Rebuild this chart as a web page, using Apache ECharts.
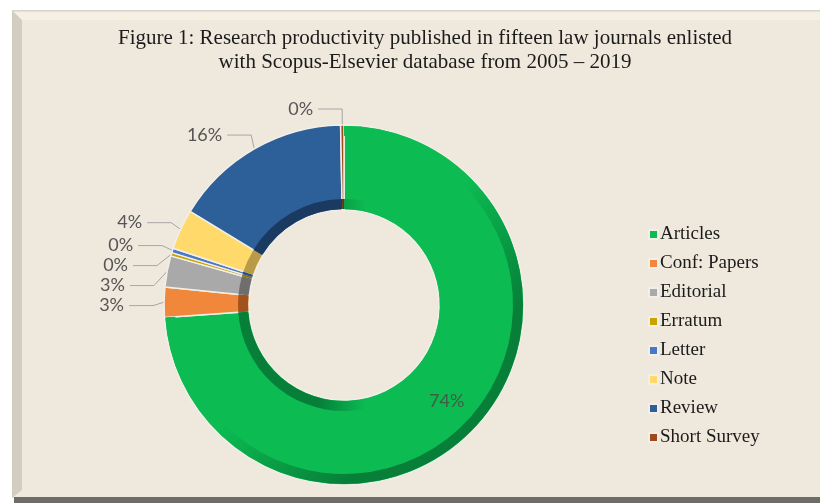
<!DOCTYPE html>
<html><head><meta charset="utf-8">
<script src="https://cdn.jsdelivr.net/npm/echarts@6/dist/echarts.min.js"></script>
<style>html,body{margin:0;padding:0;background:#fff}#c{width:820px;height:503px}</style>
</head><body><div id="c"></div>
<script>
const categories = ['Articles','Conf: Papers','Editorial','Erratum','Letter','Note','Review','Short Survey'];
const shares = [73.9, 2.7, 2.8, 0.3, 0.4, 3.6, 16.0, 0.3];
const mainColors = ['#0cbb52','#f0873a','#a9a9a9','#c9a300','#4a78c8','#ffda6a','#2d6099','#9e4a1a'];
const darkColors = ['#077f39','#a2521f','#6e6e6e','#8a6f00','#2d4f8a','#b89b48','#1a3a62','#6b3010'];
const titleText = 'Figure 1: Research productivity published in fifteen law journals enlisted\nwith Scopus-Elsevier database from 2005 \u2013 2019';

const chart = echarts.init(document.getElementById('c'));
const G = echarts.graphic;

const mainData = categories.map((n,i)=>({
  name:n, value:shares[i],
  itemStyle:{color:mainColors[i]},
  label: i===0 ? {position:'inside', color:'#3d5f45'} : {}
}));
const innerBand = categories.map((n,i)=>({
  name:n, value:shares[i],
  itemStyle:{color: i===0
    ? new G.LinearGradient(0,0,1,0,[{offset:0,color:darkColors[0]},{offset:0.38,color:darkColors[0]},{offset:0.6,color:mainColors[0]},{offset:1,color:mainColors[0]}])
    : darkColors[i]}
}));
const outerBand = categories.map((n,i)=>({
  name:n, value:shares[i],
  itemStyle:{color: i===0
    ? new G.LinearGradient(0,0,1,1,[{offset:0,color:mainColors[0]},{offset:0.5,color:mainColors[0]},{offset:0.75,color:darkColors[0]},{offset:1,color:darkColors[0]}])
    : 'rgba(0,0,0,0)'}
}));

const ctr = [344, 305];
chart.setOption({
  animation:false,
  backgroundColor:'#ffffff',
  graphic:[
    {type:'rect', shape:{x:12,y:10,width:808,height:488}, style:{fill:'#efe8dc'}, z:-10},
    {type:'polygon', shape:{points:[[12,10],[22,20],[22,490],[12,498]]}, style:{fill:'#d3ccc1'}, z:-9},
    {type:'polygon', shape:{points:[[12,10],[820,10],[820,20],[22,20]]}, style:{fill:'#f5efe4'}, z:-9},
    {type:'rect', shape:{x:12,y:10,width:808,height:1.5}, style:{fill:'#d6d2cc'}, z:-8},
    {type:'rect', shape:{x:14,y:497,width:806,height:6}, style:{fill:'#6f6c67'}, z:-9}
  ],
  title:{
    text:titleText, left:420, top:21, textAlign:'center',
    textStyle:{fontFamily:'Liberation Serif', fontSize:21, fontWeight:'normal', color:'#1b1b1b', lineHeight:24}
  },
  legend:{
    orient:'vertical', left:643, top:220, itemWidth:9, itemHeight:9, itemGap:10,
    icon:'rect', data:categories,
    textStyle:{fontFamily:'Liberation Serif', fontSize:19, color:'#1b1b1b', padding:[0,0,0,-3]}
  },
  series:[
    {
      type:'pie', name:'main', center:ctr, radius:[95,180], startAngle:90, clockwise:true,
      avoidLabelOverlap:true, minShowLabelAngle:0,
      itemStyle:{borderColor:'#f2efe8', borderWidth:1.5},
      label:{show:true, formatter:p=>Math.round(p.percent)+'%', fontFamily:'Lato', fontSize:18, color:'#555555'},
      labelLine:{show:true, length:16, length2:24, lineStyle:{color:'#a6a6a6', width:1}},
      emphasis:{disabled:true},
      data:mainData, z:2
    },
    {
      type:'pie', name:'innerBevel', center:ctr, radius:[96,106], startAngle:90, silent:true,
      label:{show:false}, labelLine:{show:false}, emphasis:{disabled:true},
      itemStyle:{borderWidth:0},
      data:innerBand, z:3
    },
    {
      type:'pie', name:'outerBevel', center:ctr, radius:[169,179], startAngle:90, silent:true,
      label:{show:false}, labelLine:{show:false}, emphasis:{disabled:true},
      itemStyle:{borderWidth:0},
      data:outerBand, z:3
    }
  ]
});
</script></body></html>
